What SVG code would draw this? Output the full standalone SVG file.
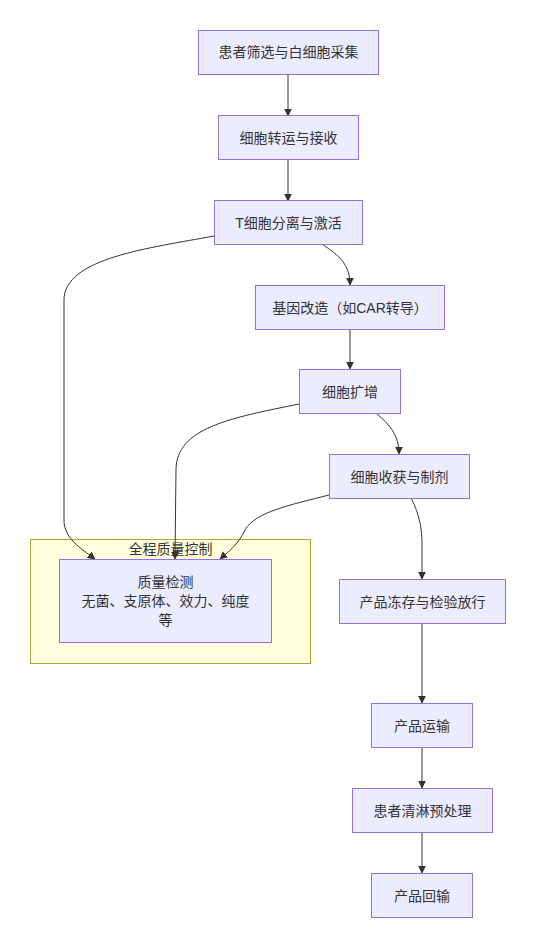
<svg xmlns="http://www.w3.org/2000/svg" width="536" height="948" viewBox="0 0 536 948">
<style>
.n rect{fill:#ececff;stroke:#9370db;stroke-width:1}
text{font-family:"Liberation Sans","Noto Sans CJK SC",sans-serif;font-size:14px;fill:#333;text-anchor:middle;dominant-baseline:central}
.e path{fill:none;stroke:#333;stroke-width:1;marker-end:url(#arr)}
</style>
<defs>
<marker id="arr" viewBox="0 0 10 10" refX="9" refY="5" markerUnits="userSpaceOnUse" markerWidth="8" markerHeight="8" orient="auto">
<path d="M0,0 L10,5 L0,10 z" fill="#333"/>
</marker>
</defs>
<rect width="536" height="948" fill="#fff"/>
<g id="cluster">
<rect x="30.5" y="539.5" width="280" height="124" fill="#ffffde" stroke="#aaaa33"/>
<text x="170.5" y="549">全程质量控制</text>
</g>
<g class="e" id="edges">
<path d="M288,74 L288,116"/>
<path d="M288,159 L288,201"/>
<path d="M322,244 C340,256 350,265 350,285"/>
<path d="M350,329 L350,369"/>
<path d="M376,413 C390,425 399,435 399,454"/>
<path d="M411,498 C420,515 422,530 422,545 L422,579"/>
<path d="M422,623 L422,703"/>
<path d="M422,747 L422,788"/>
<path d="M422,832 L422,873"/>
<path d="M214,236 C150,248 64,258 64,300 L64,520 C64,538 80,548 95,559"/>
<path d="M299,404 C230,418 176,428 176,470 L175,559"/>
<path d="M329,495 C290,505 255,512 245,530 C238,545 228,552 220,559"/>
</g>
<g class="n" id="n1"><rect x="198.5" y="30.5" width="180" height="44"/><text x="288.5" y="52">患者筛选与白细胞采集</text></g>
<g class="n" id="n2"><rect x="218.5" y="115.5" width="140" height="44"/><text x="288.5" y="137.5">细胞转运与接收</text></g>
<g class="n" id="n3"><rect x="214.5" y="200.5" width="148" height="44"/><text x="288.5" y="222.5">T细胞分离与激活</text></g>
<g class="n" id="n4"><rect x="255.5" y="285.5" width="189" height="44"/><text x="350" y="307.5">基因改造（如CAR转导）</text></g>
<g class="n" id="n5"><rect x="299.5" y="369.5" width="101" height="44"/><text x="350" y="391.5">细胞扩增</text></g>
<g class="n" id="n6"><rect x="329.5" y="454.5" width="140" height="44"/><text x="399.5" y="476.5">细胞收获与制剂</text></g>
<g class="n" id="n7"><rect x="339.5" y="579.5" width="166" height="44"/><text x="422.5" y="601.5">产品冻存与检验放行</text></g>
<g class="n" id="n8"><rect x="371.5" y="703.5" width="101" height="44"/><text x="422" y="725.5">产品运输</text></g>
<g class="n" id="n9"><rect x="352.5" y="788.5" width="140" height="44"/><text x="422.5" y="810.5">患者清淋预处理</text></g>
<g class="n" id="n10"><rect x="371.5" y="873.5" width="101" height="44"/><text x="422" y="895.5">产品回输</text></g>
<g class="n" id="qc"><rect x="59.5" y="559.5" width="212" height="83"/>
<text x="165.5" y="582">质量检测</text>
<text x="165.5" y="601">无菌、支原体、效力、纯度</text>
<text x="165.5" y="620">等</text>
</g>
</svg>
